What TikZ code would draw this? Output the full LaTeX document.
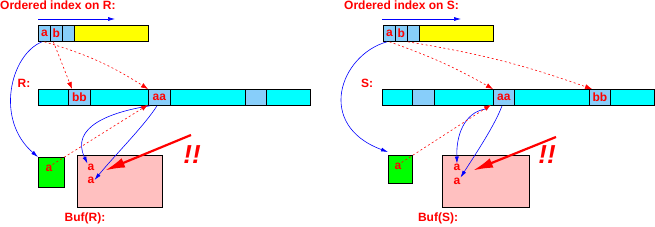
\documentclass[tikz,border=0pt]{standalone}
\usepackage{fontspec}
\setmainfont{Liberation Sans}
\usetikzlibrary{arrows.meta}
\definecolor{idxblue}{RGB}{135,206,250}
\definecolor{tabcyan}{RGB}{0,255,255}
\definecolor{bufpink}{RGB}{255,192,192}
\definecolor{tmpgreen}{RGB}{0,255,0}
\definecolor{idxyellow}{RGB}{255,255,0}
\tikzset{
	box/.style={draw=black, line width=0.8pt, inner sep=0pt, anchor=north west, text=red, font=\bfseries\fontsize{12}{12}\selectfont},
	idxcell/.style={box, fill=idxblue, minimum width=12pt, minimum height=16pt},
	tabcell/.style={box, fill=idxblue, minimum width=22pt, minimum height=16pt},
	lbl/.style={text=red, inner sep=0pt, font=\bfseries\fontsize{12}{12}\selectfont},
	title/.style={text=red, inner sep=0pt, anchor=base west, font=\bfseries\fontsize{12}{12}\selectfont},
	ptr/.style={red, line width=0.6pt, dash pattern=on 2pt off 2.5pt, -{Latex[length=7pt,width=5pt]}},
	scan/.style={blue, line width=0.6pt, -{Latex[length=7pt,width=4pt]}},
	alarm/.style={red, line width=2.2pt, -{Latex[length=20pt,width=10pt]}}
}
\begin{document}
\begin{tikzpicture}[x=1pt,y=-1pt]
	\useasboundingbox (0,0) rectangle (655,227);
	% left half: index on R
	\node[title] (titR) at (0,9.5) {Ordered index on R:};
	\coordinate (dirR1) at (38,19);
	\coordinate (dirR2) at (115,19);
	\draw[scan] (dirR1) -- (dirR2);
	\node[idxcell] (iRa) at (38,25) {a};
	\node[idxcell] (iRb) at (50,25) {b};
	\node[idxcell] (iRc) at (62,25) {};
	\node[box, fill=idxyellow, minimum width=74pt, minimum height=16pt] (iRy) at (74,25) {};
	\node[lbl] (labR) at (24,83) {R:};
	\node[box, fill=tabcyan, minimum width=272pt, minimum height=16pt] (tabR) at (38,89) {};
	\node[tabcell] (tRbb) at (68,89) {bb};
	\node[tabcell] (tRaa) at (148,89) {aa};
	\node[tabcell, minimum width=21pt] (tRe) at (245,89) {};
	\node[box, fill=tmpgreen, minimum width=26pt, minimum height=30pt] (grnR) at (38,157) {};
	\node[lbl] (grnRa) at (49,168) {a};
	\node[box, fill=bufpink, minimum width=85pt, minimum height=52pt] (bufR) at (77,155) {};
	\node[lbl] (bufRa1) at (91,167) {a};
	\node[lbl] (bufRa2) at (91,180) {a};
	\node[lbl] (bufRl) at (85,218) {Buf(R):};
	\node[lbl, font=\bfseries\itshape\fontsize{26}{26}\selectfont] (bangR) at (192,155) {!!};
	\draw[ptr] (iRa.south) to[bend left=8] (tRaa.north west);
	\draw[ptr] ([xshift=-3pt]iRb.south) -- ([xshift=4pt]tRbb.north west);
	\draw[scan] ([xshift=4pt]iRa.south west) .. controls (10,55) and (-5,120) .. (grnR.north west);
	\draw[scan] ([xshift=2pt]tRaa.south west) .. controls (110,112) and (70,127) .. (bufRa1.north west);
	\draw[scan] ([xshift=9pt]tRaa.south west) .. controls (145,125) and (115,155) .. (bufRa2.east);
	\draw[ptr] (grnRa.north east) -- ([yshift=1pt]tRaa.south west);
	\coordinate (warnR) at (191,135);
	\draw[alarm] (warnR) -- ([xshift=14pt]bufRa1.south);
	% right half: index on S
	\node[title] (titS) at (344,9.5) {Ordered index on S:};
	\coordinate (dirS1) at (382,19);
	\coordinate (dirS2) at (461,19);
	\draw[scan] (dirS1) -- (dirS2);
	\node[idxcell] (iSa) at (383,25) {a};
	\node[idxcell] (iSb) at (395,25) {b};
	\node[idxcell] (iSc) at (407,25) {};
	\node[box, fill=idxyellow, minimum width=74pt, minimum height=16pt] (iSy) at (419,25) {};
	\node[lbl] (labS) at (367,83) {S:};
	\node[box, fill=tabcyan, minimum width=272pt, minimum height=16pt] (tabS) at (382,89) {};
	\node[tabcell] (tSe) at (412,89) {};
	\node[tabcell, minimum width=21pt] (tSaa) at (493,89) {aa};
	\node[tabcell, minimum width=21pt] (tSbb) at (589,89) {bb};
	\node[box, fill=tmpgreen, minimum width=24pt, minimum height=28pt] (grnS) at (388,155) {};
	\node[lbl] (grnSa) at (398,166) {a};
	\node[box, fill=bufpink, minimum width=87pt, minimum height=52pt] (bufS) at (442,155) {};
	\node[lbl] (bufSa1) at (457,167) {a};
	\node[lbl] (bufSa2) at (457,181) {a};
	\node[lbl] (bufSl) at (438,218) {Buf(S):};
	\node[lbl, font=\bfseries\itshape\fontsize{26}{26}\selectfont] (bangS) at (547,155) {!!};
	\draw[ptr] (iSa.south) to[bend left=5] (tSaa.north west);
	\draw[ptr] (iSb.south east) to[bend left=5] ([xshift=3pt]tSbb.north west);
	\draw[scan] ([xshift=4pt]iSa.south west) .. controls (340,55) and (315,125) .. ([yshift=3pt]grnS.north west);
	\draw[scan] ([xshift=-5pt,yshift=-3pt]tSaa.south west) .. controls (468,110) and (456,130) .. (bufSa1.north);
	\draw[scan] ([xshift=9pt]tSaa.south west) .. controls (495,125) and (475,155) .. (bufSa2.north east);
	\draw[ptr] (grnSa.north east) -- ([xshift=-2pt,yshift=1pt]tSaa.south west);
	\coordinate (warnS) at (556,137);
	\draw[alarm] (warnS) -- ([xshift=16pt]bufSa1.south);
\end{tikzpicture}
\end{document}
